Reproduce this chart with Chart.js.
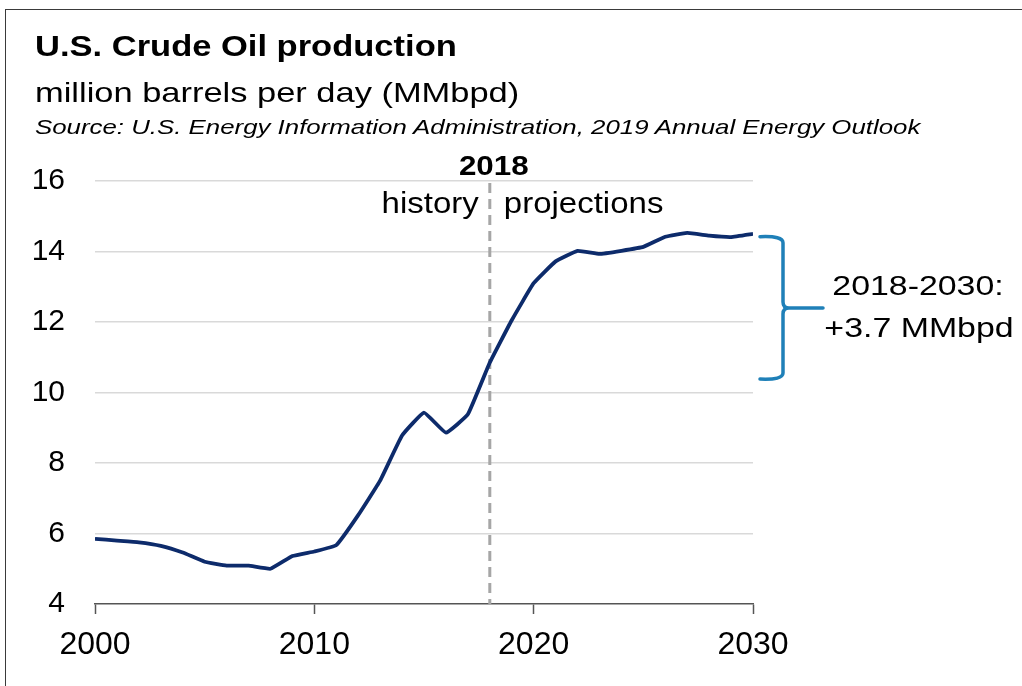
<!DOCTYPE html>
<html>
<head>
<meta charset="utf-8">
<script src="https://cdn.jsdelivr.net/npm/chart.js@4.4.1/dist/chart.umd.min.js"></script>
<style>
  html, body { margin: 0; padding: 0; background: #fff; }
  #wrap { position: relative; width: 1022px; height: 686px; overflow: hidden; background: #fff; font-family: "Liberation Sans", Arial, sans-serif; color: #000; }
  #frame { position: absolute; left: 5px; top: 9px; right: -5px; bottom: -5px; border-left: 1px solid #3a3a3a; border-top: 1px solid #3a3a3a; }
  .t { position: absolute; left: 35px; white-space: nowrap; transform-origin: 0 0; }
  #title { top: 32px; font-size: 29px; line-height: 29px; font-weight: bold; transform: scaleX(1.19); }
  #sub { top: 79px; font-size: 28px; line-height: 28px; transform: scaleX(1.23); }
  #src { top: 116px; font-size: 21px; line-height: 21px; font-style: italic; transform: scaleX(1.23); }
  #c { position: absolute; left: 0; top: 0; }
</style>
</head>
<body>
<div id="wrap">
  <canvas id="c" width="1022" height="686"></canvas>
  <div id="frame"></div>
  <div class="t" id="title">U.S. Crude Oil production</div>
  <div class="t" id="sub">million barrels per day (MMbpd)</div>
  <div class="t" id="src">Source: U.S. Energy Information Administration, 2019 Annual Energy Outlook</div>
</div>
<script>
const years = [2000,2001,2002,2003,2004,2005,2006,2007,2008,2009,2010,2011,2012,2013,2014,2015,2016,2017,2018,2019,2020,2021,2022,2023,2024,2025,2026,2027,2028,2029,2030];
const production = [5.85,5.80,5.75,5.65,5.46,5.20,5.09,5.09,5.00,5.36,5.49,5.67,6.52,7.50,8.78,9.43,8.86,9.38,10.85,12.05,13.10,13.72,14.02,13.93,14.02,14.13,14.42,14.53,14.45,14.41,14.50];
const xTicks = [2000, 2010, 2020, 2030];
const yTicks = [4, 6, 8, 10, 12, 14, 16];
const dividerYear = 2018;
const bracketRange = [10.38, 14.42];
const labels = { divider: "2018", left: "history", right: "projections", note1: "2018-2030:", note2: "+3.7 MMbpd" };

const FONT = '"Liberation Sans", Arial, sans-serif';

function stretchedText(ctx, text, x, y, scale, align) {
  ctx.save();
  ctx.translate(x, y);
  ctx.scale(scale, 1);
  ctx.textAlign = align;
  ctx.textBaseline = 'alphabetic';
  ctx.fillText(text, 0, 0);
  ctx.restore();
}

const annot = {
  id: 'annot',
  beforeDatasetsDraw(chart) {
    const ctx = chart.ctx, xs = chart.scales.x, ys = chart.scales.y;
    const x = xs.getPixelForValue(dividerYear);
    ctx.save();
    ctx.strokeStyle = '#a6a6a6';
    ctx.lineWidth = 3;
    ctx.setLineDash([10, 6]);
    ctx.beginPath();
    ctx.moveTo(x, ys.getPixelForValue(16) + 2);
    ctx.lineTo(x, ys.getPixelForValue(4));
    ctx.stroke();
    ctx.restore();
    ctx.save();
    ctx.fillStyle = '#000';
    ctx.font = 'bold 28px ' + FONT;
    stretchedText(ctx, labels.divider, x + 4, ys.getPixelForValue(16) - 6, 1.12, 'center');
    ctx.font = '30px ' + FONT;
    stretchedText(ctx, labels.left, x - 11, ys.getPixelForValue(16) + 32, 1.1, 'right');
    stretchedText(ctx, labels.right, x + 14, ys.getPixelForValue(16) + 32, 1.1, 'left');
    ctx.restore();
  },
  afterDraw(chart) {
    const ctx = chart.ctx, ys = chart.scales.y, area = chart.chartArea;
    const top = ys.getPixelForValue(bracketRange[1]);
    const bot = ys.getPixelForValue(bracketRange[0]);
    const mid = (top + bot) / 2;
    const x0 = area.right + 7, xv = area.right + 30, xm = area.right + 70;
    const r = 6;
    ctx.save();
    ctx.strokeStyle = '#1f80b8';
    ctx.lineWidth = 3.5;
    ctx.lineCap = 'round';
    ctx.beginPath();
    ctx.moveTo(x0, top);
    ctx.quadraticCurveTo(xv, top - 1, xv, top + r);
    ctx.lineTo(xv, mid - r);
    ctx.quadraticCurveTo(xv, mid, xv + r, mid);
    ctx.lineTo(xm, mid);
    ctx.moveTo(xv + r, mid);
    ctx.quadraticCurveTo(xv, mid, xv, mid + r);
    ctx.lineTo(xv, bot - r);
    ctx.quadraticCurveTo(xv, bot + 1, x0, bot);
    ctx.stroke();
    ctx.restore();
    ctx.save();
    ctx.fillStyle = '#000';
    ctx.font = '28px ' + FONT;
    stretchedText(ctx, labels.note1, 918, mid - 13, 1.21, 'center');
    stretchedText(ctx, labels.note2, 919, mid + 29, 1.21, 'center');
    ctx.restore();
  }
};

new Chart(document.getElementById('c'), {
  type: 'line',
  data: {
    labels: years,
    datasets: [{
      data: years.map((y, i) => ({ x: y, y: production[i] })),
      borderColor: '#0d2b6b',
      borderWidth: 3.8,
      pointRadius: 0,
      tension: 0.1,
      borderJoinStyle: 'round',
      fill: false
    }]
  },
  options: {
    responsive: false,
    animation: false,
    devicePixelRatio: 1,
    layout: { padding: { left: 0, top: 181, right: 269, bottom: 0 } },
    plugins: { legend: { display: false }, tooltip: { enabled: false }, title: { display: false } },
    scales: {
      x: {
        type: 'linear',
        min: 2000, max: 2030,
        afterFit(s) { s.height = 82; },
        afterBuildTicks(s) { s.ticks = xTicks.map(v => ({ value: v })); },
        ticks: { callback: v => String(v), font: { family: FONT, size: 32 }, color: '#000', padding: 12, maxRotation: 0 },
        grid: { drawOnChartArea: false, drawTicks: true, tickLength: 10, tickColor: '#555', tickWidth: 1.5 },
        border: { display: true, color: '#555', width: 1.5 }
      },
      y: {
        min: 4, max: 16,
        afterFit(s) { s.width = 95; },
        afterBuildTicks(s) { s.ticks = yTicks.map(v => ({ value: v })); },
        ticks: { font: { family: FONT, size: 30 }, color: '#000', padding: 30 },
        grid: { color: ctx => ctx.tick && ctx.tick.value === 4 ? 'rgba(0,0,0,0)' : '#d9d9d9', lineWidth: 1.5, drawTicks: false },
        border: { display: false }
      }
    }
  },
  plugins: [annot]
});
</script>
</body>
</html>
